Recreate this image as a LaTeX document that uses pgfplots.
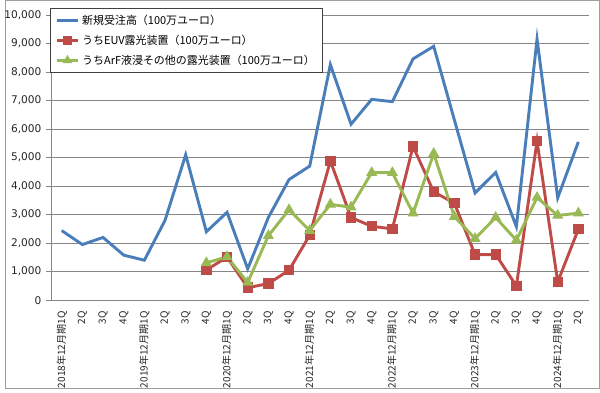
\documentclass[border=0pt]{standalone}
\usepackage{pgfplots}
\pgfplotsset{compat=1.18}
\usepackage{fontspec}
\setmainfont{DejaVu Sans}
\newfontfamily\jp{Noto Sans CJK JP}
\definecolor{cblue}{HTML}{4A7EBB}
\definecolor{cred}{HTML}{BE4B48}
\definecolor{cgreen}{HTML}{98B954}
\definecolor{cgrid}{HTML}{868686}
\begin{document}
\begin{tikzpicture}[x=1pt,y=1pt]
\draw[draw=cgrid!80,line width=0.8pt] (0.4,0.4) rectangle (449.6,293.6);
\begin{axis}[
  at={(34.95pt,66.9pt)}, anchor=south west,
  scale only axis, width=406.5pt, height=215.8pt,
  xmin=-0.5, xmax=25.5, ymin=0, ymax=10000,
  axis lines*=left,
  axis line style={draw=cgrid, line width=0.6pt},
  ytick={0,1000,...,10000},
  ymajorgrids, grid style={draw=cgrid, line width=0.6pt},
  y tick label style={font=\fontsize{8}{9}\selectfont, color=black!85, /pgf/number format/assume math mode=true, /pgf/number format/1000 sep={,}},
  scaled y ticks=false,
  yticklabel style={/pgf/number format/fixed},
  ytick style={draw=cgrid, line width=0.6pt},
  tick align=outside, major tick length=4pt,
  xtick={0,...,25},
  xticklabels={2018年12月期1Q,2Q,3Q,4Q,2019年12月期1Q,2Q,3Q,4Q,2020年12月期1Q,2Q,3Q,4Q,2021年12月期1Q,2Q,3Q,4Q,2022年12月期1Q,2Q,3Q,4Q,2023年12月期1Q,2Q,3Q,4Q,2024年12月期1Q,2Q},
  x tick label style={font=\jp\fontsize{7.6}{9}\selectfont, rotate=90, anchor=east, color=black!85, yshift=0pt, xshift=-1pt},
  x tick style={draw=none},
  extra x ticks={-0.5,0.5,...,25.5},
  extra x tick labels={},
  extra x tick style={grid=none, tick style={draw=cgrid, line width=0.6pt}},
  legend style={at={(-0.003,1.025)}, anchor=north west, draw=black!75, fill=white, line width=0.6pt,
     font=\jp\fontsize{8.3}{10}\selectfont, row sep=2.5pt, inner xsep=4pt, inner ysep=3pt, legend cell align=left},
  legend image code/.code={\draw[#1] (0pt,0pt) -- (16pt,0pt); \draw[#1,mark size=2pt,mark repeat=2,mark phase=2] plot coordinates {(0pt,0pt) (8pt,0pt) (16pt,0pt)};},
  clip=false,
]
\addplot[cblue, line width=2.2pt, no marks] coordinates {
(0,2440) (1,1950) (2,2200) (3,1580) (4,1400) (5,2800) (6,5100) (7,2400) (8,3080) (9,1100)
(10,2900) (11,4230) (12,4700) (13,8260) (14,6170) (15,7040) (16,6960) (17,8460) (18,8900) (19,6320)
(20,3760) (21,4480) (22,2580) (23,9150) (24,3590) (25,5550)};
\addlegendentry{新規受注高（100万ユーロ）}
\addplot[cred, line width=2.2pt, mark=square*, mark size=2.8pt, mark options={solid}] coordinates {
(7,1060) (8,1510) (9,440) (10,580) (11,1050) (12,2280) (13,4880) (14,2900) (15,2590) (16,2500)
(17,5390) (18,3800) (19,3400) (20,1600) (21,1600) (22,500) (23,5580) (24,640) (25,2490)};
\addlegendentry{うちEUV露光装置（100万ユーロ）}
\addplot[cgreen, line width=2.2pt, mark=triangle*, mark size=2.7pt, mark options={solid}] coordinates {
(7,1310) (8,1520) (9,620) (10,2260) (11,3170) (12,2440) (13,3360) (14,3260) (15,4470) (16,4470)
(17,3050) (18,5140) (19,2930) (20,2160) (21,2900) (22,2100) (23,3600) (24,2970) (25,3050)};
\addlegendentry{うちArF液浸その他の露光装置（100万ユーロ）}
\end{axis}
\end{tikzpicture}
\end{document}
